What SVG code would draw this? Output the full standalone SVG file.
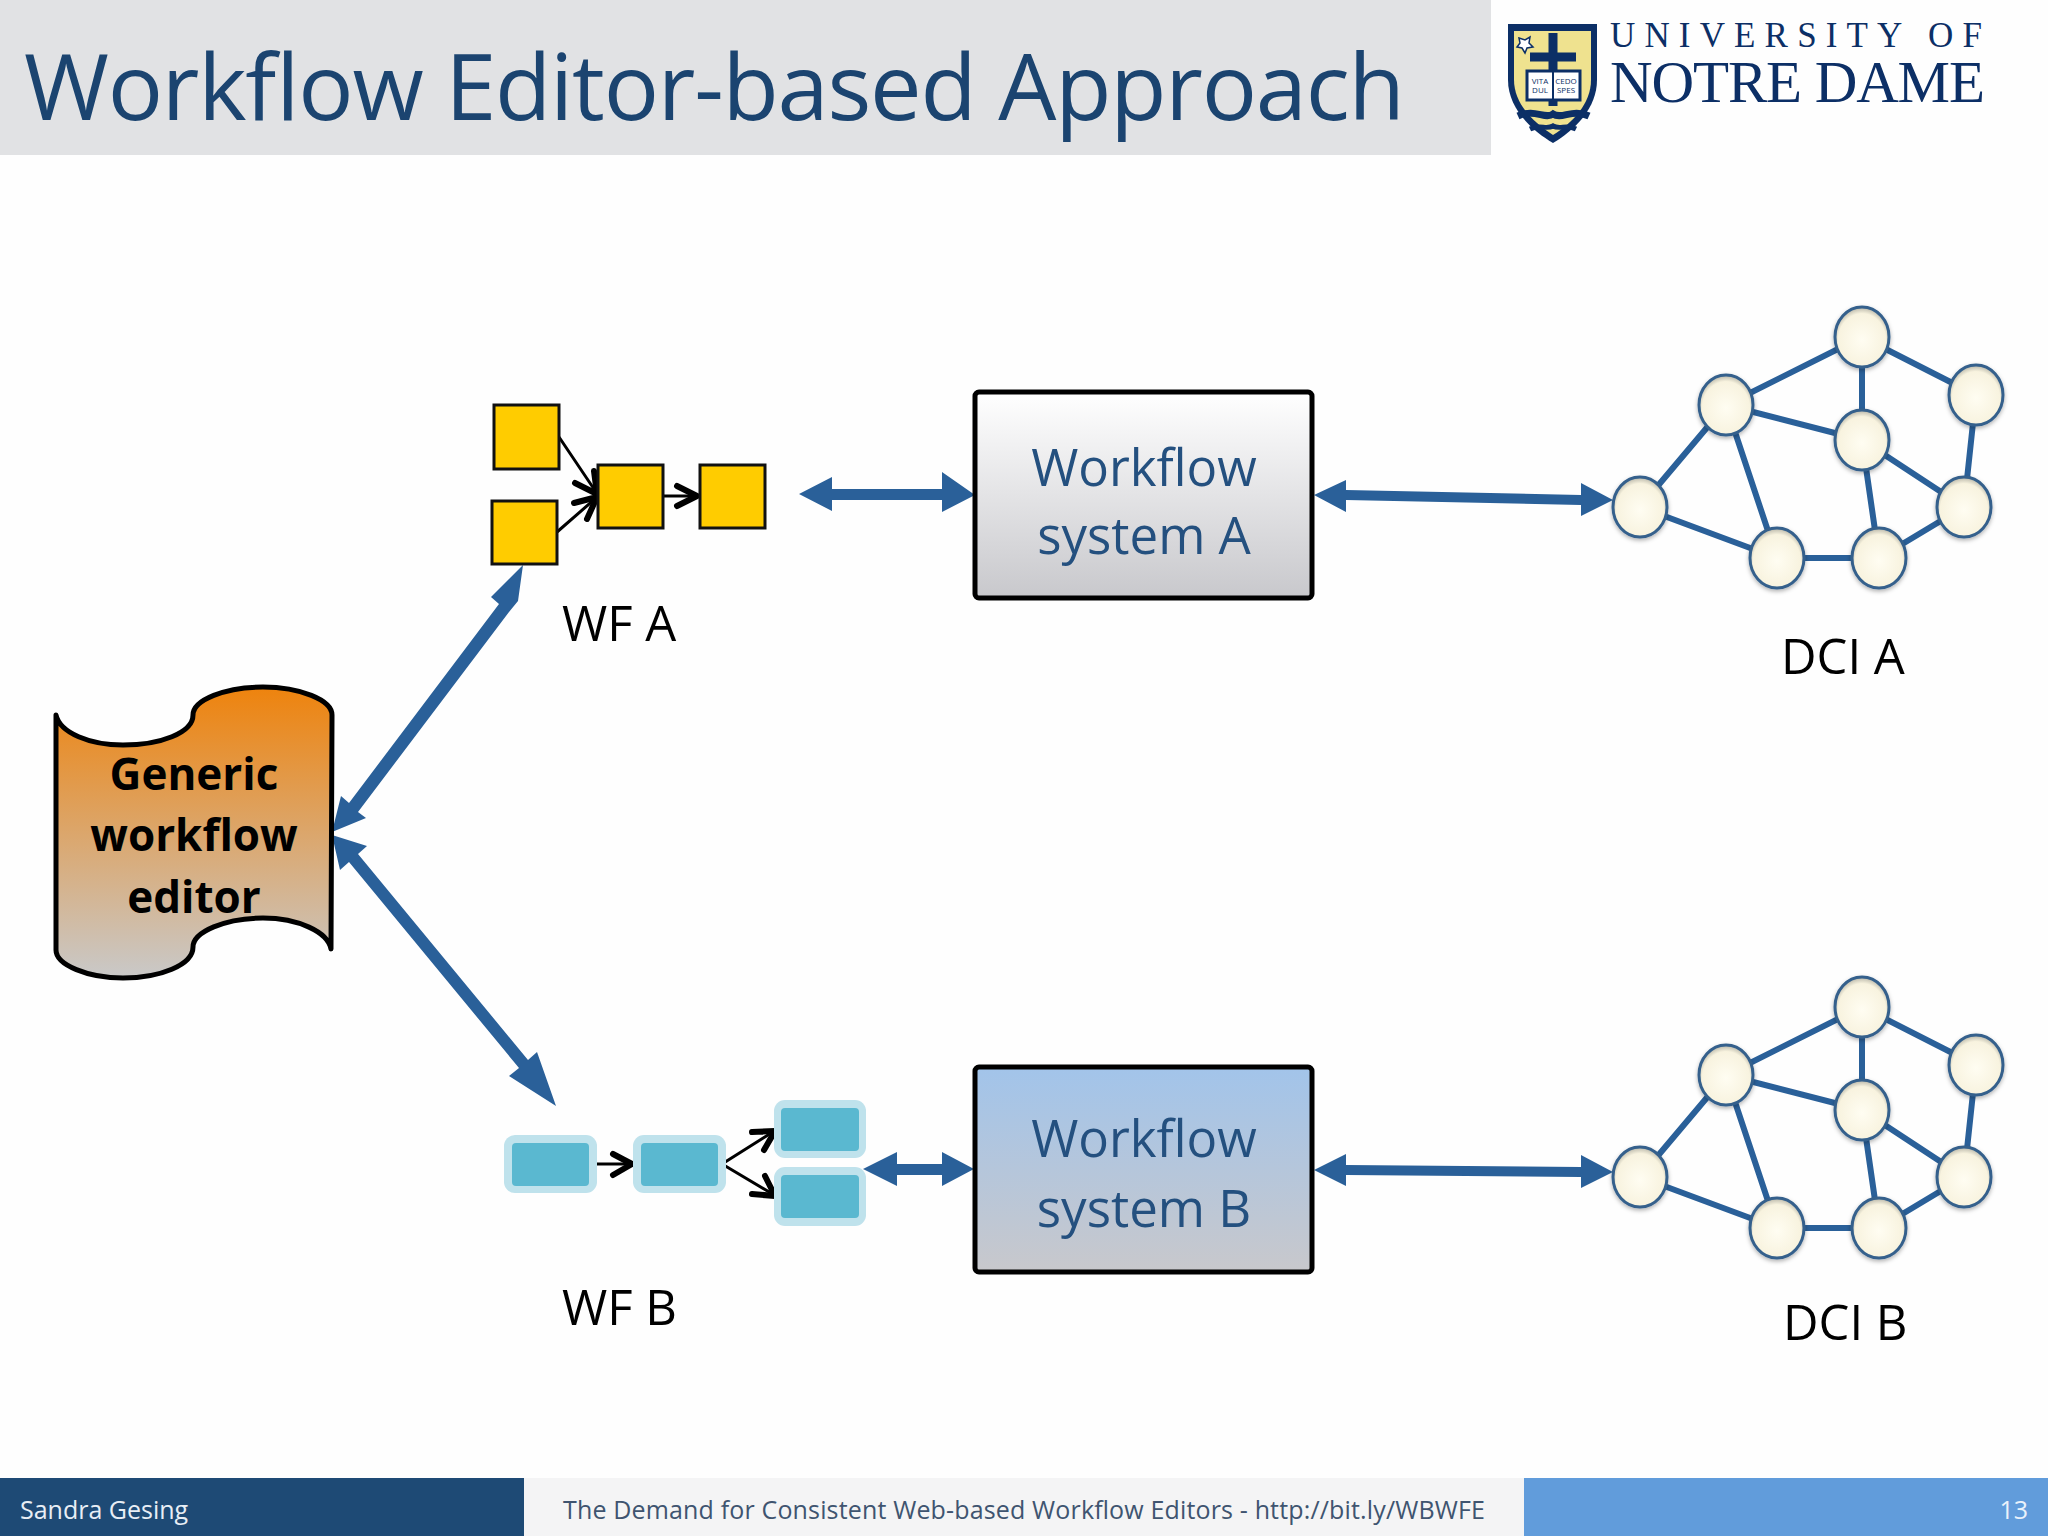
<svg xmlns="http://www.w3.org/2000/svg" width="2048" height="1536" viewBox="0 0 2048 1536">
<style>
text{font-family:"Open Sans","Noto Sans","Liberation Sans",sans-serif}
.sys{font-size:51px;fill:#24507f;text-anchor:middle}
.lbl{font-size:49px;fill:#000}
.ed{font-size:44px;font-weight:700;fill:#000;text-anchor:middle}
.foot{font-size:25px}
.y{fill:#ffcc00;stroke:#111;stroke-width:3}
.o{fill:#bfe2ec}.i{fill:#5ab8d0}
.thin{stroke:#000;stroke-width:3;fill:none}
.hd{stroke:#000;stroke-width:6;fill:none;stroke-linecap:round;stroke-linejoin:round}
.ar{fill:#2a6099}
.e{stroke:#2a6099;stroke-width:6;fill:none}
.c{fill:url(#ball);stroke:#34608c;stroke-width:3;filter:url(#sh)}
.serif{font-family:"Liberation Serif",serif;fill:#0c2f66}
</style>
<defs>
<linearGradient id="ga" x1="0" y1="0" x2="0" y2="1"><stop offset="0" stop-color="#ffffff"/><stop offset="1" stop-color="#c8c8cc"/></linearGradient>
<linearGradient id="gb" x1="0" y1="0" x2="0" y2="1"><stop offset="0" stop-color="#a2c4ea"/><stop offset="1" stop-color="#c8c8cc"/></linearGradient>
<linearGradient id="go" x1="0" y1="0" x2="0" y2="1"><stop offset="0" stop-color="#ee830d"/><stop offset="1" stop-color="#c9c9c9"/></linearGradient>
<radialGradient id="ball" cx="0.5" cy="0.55" r="0.55"><stop offset="0" stop-color="#fffdf2"/><stop offset="0.8" stop-color="#f8f3df"/><stop offset="1" stop-color="#b5b3a6"/></radialGradient>
<filter id="sh" x="-20%" y="-20%" width="140%" height="140%"><feDropShadow dx="0" dy="2" stdDeviation="2" flood-color="#000" flood-opacity="0.3"/></filter>
<g id="net">
<path class="e" d="M1640 507L1726 405M1726 405L1862 337M1862 337L1976 395M1862 337L1862 440M1726 405L1862 440M1726 405L1777 558M1862 440L1964 507M1862 440L1879 558M1976 395L1964 507M1640 507L1777 558M1777 558L1879 558M1879 558L1964 507"/>
<ellipse class="c" cx="1862" cy="337" rx="27" ry="30"/>
<ellipse class="c" cx="1976" cy="395" rx="27" ry="30"/>
<ellipse class="c" cx="1726" cy="405" rx="27" ry="30"/>
<ellipse class="c" cx="1862" cy="440" rx="27" ry="30"/>
<ellipse class="c" cx="1964" cy="507" rx="27" ry="30"/>
<ellipse class="c" cx="1640" cy="507" rx="27" ry="30"/>
<ellipse class="c" cx="1777" cy="558" rx="27" ry="30"/>
<ellipse class="c" cx="1879" cy="558" rx="27" ry="30"/>
</g>
</defs>
<rect width="2048" height="1536" fill="#fefefe"/>
<g id="header">
<rect x="0" y="0" width="1491" height="155" fill="#e1e2e4"/>
<text x="24" y="120" font-size="92" fill="#1b4470" textLength="1381">Workflow Editor-based Approach</text>
</g>
<g id="logo">
<path d="M1508 24H1597V80C1597 108 1575 130 1553 143C1531 130 1508 108 1508 80Z" fill="#0c2f66"/>
<path d="M1514 31H1591V80C1591 104 1572 123 1553 135C1534 123 1514 104 1514 80Z" fill="#efe28f"/>
<path d="M1553 33V106M1530 57H1576" stroke="#0c2f66" stroke-width="9" fill="none"/>
<path d="M1518 116C1535 108 1545 120 1553 114C1562 120 1572 108 1589 116" stroke="#0c2f66" stroke-width="7" fill="none"/>
<path d="M1530 129C1540 124 1546 130 1553 126C1560 130 1566 124 1576 129" stroke="#0c2f66" stroke-width="5" fill="none"/>
<rect x="1527" y="71" width="53" height="29" fill="#fff" stroke="#0c2f66" stroke-width="3"/>
<path d="M1553 71V100" stroke="#0c2f66" stroke-width="2"/>
<path d="M1519 38l6 2 5-3-1 6 4 4-6 1-2 5-3-5-5-1 3-4z" fill="#fff" stroke="#0c2f66" stroke-width="1.5"/>
<g class="serif" font-size="8" text-anchor="middle"><text x="1540" y="84">VITA</text><text x="1540" y="93">DUL</text><text x="1566" y="84">CEDO</text><text x="1566" y="93">SPES</text></g>
<text class="serif" x="1610" y="47" font-size="35" textLength="372">UNIVERSITY OF</text>
<text class="serif" x="1610" y="102" font-size="59" textLength="375">NOTRE DAME</text>
</g>
<g id="connectors">
<path class="ar" d="M799 494L832 477V489H942V472L975 495L942 512V500H832V511Z"/>
<path class="ar" d="M1314 495L1346 480V490L1581 495V483L1613 500L1581 516V505L1346 500V512Z"/>
<path class="ar" d="M863 1169L897 1152V1164H942V1152L974 1169L942 1186V1175H897V1186Z"/>
<path class="ar" d="M1314 1170L1346 1154V1165L1581 1167V1155L1613 1172L1581 1188V1177L1346 1175V1186Z"/>
<path class="ar" d="M332 832L341 796L349 803L499 604L491 597L523 565L518 601L509 612L358 812L366 818Z"/>
<path class="ar" d="M332 835L367 846L358 854L528 1060L537 1052L556 1106L509 1076L519 1068L349 862L340 870Z"/>
<path class="thin" d="M559 437L596 492M557 532L596 498M663 496H697M722 1164L776 1130M722 1164L776 1196M597 1164H631"/>
<path class="hd" d="M575 483L597 494L594 471M574 503L597 497L587 519M677 486L697 496L677 506M613 1154L632 1164L613 1175M752 1132L775 1131L764 1150M752 1194L775 1196L765 1176"/>
</g>
<g id="wf-a"><rect class="y" x="494" y="405" width="65" height="64"/><rect class="y" x="492" y="501" width="65" height="63"/><rect class="y" x="598" y="465" width="65" height="63"/><rect class="y" x="700" y="465" width="65" height="63"/></g>
<text class="lbl" id="wf-a-label" x="562" y="641">WF A</text>
<g id="wf-b">
<rect class="o" x="504" y="1135" width="93" height="58" rx="11"/><rect class="i" x="512" y="1143" width="77" height="43" rx="4"/>
<rect class="o" x="633" y="1135" width="93" height="58" rx="11"/><rect class="i" x="641" y="1143" width="77" height="43" rx="4"/>
<rect class="o" x="774" y="1100" width="92" height="58" rx="11"/><rect class="i" x="781" y="1108" width="78" height="43" rx="4"/>
<rect class="o" x="774" y="1167" width="92" height="59" rx="11"/><rect class="i" x="781" y="1175" width="78" height="43" rx="4"/>
</g>
<text class="lbl" id="wf-b-label" x="562" y="1325">WF B</text>
<g id="editor">
<path d="M56 715C60 733 90 745 123 745C160 745 193 733 193 715C193 700 225 687 263 687C300 687 332 700 332 715L331 949C328 932 298 918 263 918C225 918 193 932 193 947C193 965 160 978 123 978C88 978 56 965 56 950Z" fill="url(#go)" stroke="#000" stroke-width="5" stroke-linejoin="round"/>
<text class="ed" x="194" y="790">Generic</text><text class="ed" x="194" y="851">workflow</text><text class="ed" x="194" y="913">editor</text>
</g>
<g id="system-a"><rect x="975" y="392" width="337" height="206" rx="4" fill="url(#ga)" stroke="#000" stroke-width="5"/><text class="sys" x="1144" y="486">Workflow</text><text class="sys" x="1144" y="554">system A</text></g>
<g id="system-b"><rect x="975" y="1067" width="337" height="205" rx="4" fill="url(#gb)" stroke="#000" stroke-width="5"/><text class="sys" x="1144" y="1157">Workflow</text><text class="sys" x="1144" y="1227">system B</text></g>
<g id="dci-a"><use href="#net"/></g>
<text class="lbl" id="dci-a-label" x="1781" y="674">DCI A</text>
<g id="dci-b"><use href="#net" y="670"/></g>
<text class="lbl" id="dci-b-label" x="1783" y="1340">DCI B</text>
<g id="footer">
<rect x="0" y="1478" width="524" height="58" fill="#1e4a75"/>
<rect x="524" y="1478" width="1000" height="58" fill="#f4f4f5"/>
<rect x="1524" y="1478" width="524" height="58" fill="#619cdb"/>
<text class="foot" x="20" y="1519" fill="#e8eef5">Sandra Gesing</text>
<text class="foot" x="563" y="1519" fill="#3f5470" textLength="922">The Demand for Consistent Web-based Workflow Editors - http://bit.ly/WBWFE</text>
<text class="foot" x="2028" y="1519" fill="#eaf2fb" text-anchor="end">13</text>
</g>
</svg>
